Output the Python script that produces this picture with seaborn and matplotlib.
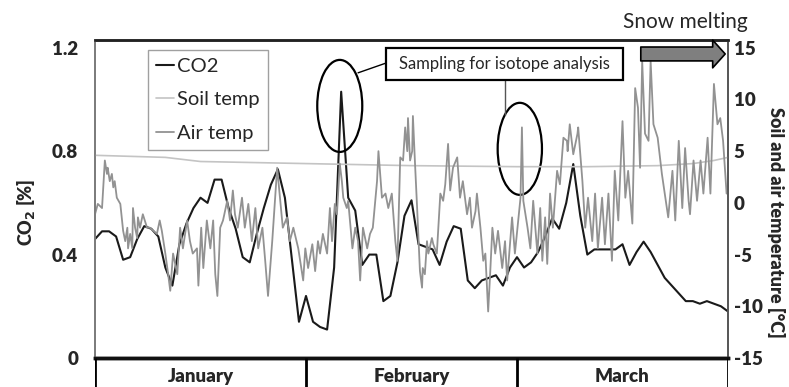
import numpy as np
import pandas as pd
import matplotlib
matplotlib.use("Agg")
import matplotlib.pyplot as plt
import seaborn as sns
from matplotlib.lines import Line2D
from matplotlib.patches import Ellipse, Rectangle

# daily CO2 [%] from 1 Jan (day 0) to 31 Mar (day 90)
co2 = [0.46, 0.49, 0.49, 0.47, 0.38, 0.39, 0.46, 0.51, 0.50, 0.47,
       0.35, 0.28, 0.44, 0.52, 0.58, 0.62, 0.60, 0.69, 0.69, 0.58,
       0.50, 0.39, 0.37, 0.48, 0.58, 0.67, 0.73, 0.62, 0.38, 0.14,
       0.24, 0.14, 0.12, 0.11, 0.35, 1.03, 0.62, 0.57, 0.36, 0.40,
       0.40, 0.22, 0.24, 0.37, 0.55, 0.61, 0.44, 0.43, 0.42, 0.36,
       0.45, 0.51, 0.50, 0.30, 0.27, 0.30, 0.31, 0.32, 0.28, 0.35,
       0.39, 0.35, 0.37, 0.41, 0.47, 0.54, 0.50, 0.60, 0.75, 0.55,
       0.40, 0.42, 0.42, 0.42, 0.42, 0.44, 0.36, 0.41, 0.45, 0.41,
       0.36, 0.31, 0.28, 0.25, 0.22, 0.22, 0.21, 0.22, 0.21, 0.20, 0.18]
co2_day = list(range(len(co2)))

# soil temperature [°C]
soil_day = [0, 10, 15, 30, 45, 60, 70, 80, 85, 88, 90]
soil_temp = [4.6, 4.4, 4.0, 3.8, 3.6, 3.5, 3.5, 3.6, 3.8, 4.1, 4.4]

# air temperature [°C]
air_day = [0.0, 0.4, 1.0, 1.4, 1.7, 1.8, 2.1, 2.4, 2.6, 2.8, 3.1, 3.6, 3.8, 4.0, 4.3, 4.6, 4.7, 5.0, 5.3, 5.4,
           5.7, 6.0, 6.1, 6.4, 6.8, 7.4, 7.8, 8.3, 8.8, 9.2, 9.5, 10.0, 10.4, 10.7, 11.1, 11.7, 12.1, 12.5, 13.1, 13.5,
           13.9, 14.5, 14.7, 15.1, 15.4, 15.9, 16.4, 16.8, 17.1, 17.4, 17.8, 18.2, 18.8, 19.2, 19.6, 19.9, 20.3, 20.9, 21.3, 21.8,
           22.3, 22.8, 23.2, 23.8, 24.2, 24.6, 25.2, 25.9, 26.3, 26.7, 27.3, 27.7, 28.2, 28.9, 29.6, 29.9, 30.3, 30.9, 31.3, 31.7,
           32.0, 32.4, 33.0, 33.4, 33.7, 34.1, 34.4, 34.8, 35.1, 35.3, 35.8, 36.0, 36.6, 37.0, 37.4, 37.7, 38.1, 38.7, 39.1, 39.5,
           40.1, 40.3, 40.8, 41.3, 41.7, 42.2, 42.7, 43.0, 43.4, 43.8, 44.1, 44.4, 44.5, 44.8, 45.1, 45.2, 45.5, 45.8, 46.2, 46.5,
           46.6, 46.9, 47.2, 47.4, 47.9, 48.1, 48.6, 49.1, 49.5, 49.8, 50.2, 50.5, 50.9, 51.5, 51.9, 52.3, 52.9, 53.3, 53.6, 54.1,
           54.3, 54.8, 55.2, 55.5, 55.9, 56.2, 56.5, 56.9, 57.3, 57.9, 58.3, 58.6, 59.3, 59.7, 60.5, 60.7, 60.9, 61.5, 61.9, 62.3,
           62.9, 63.3, 63.6, 64.0, 64.3, 64.7, 65.1, 65.7, 66.1, 66.6, 67.1, 67.2, 67.5, 68.0, 68.6, 68.7, 69.3, 69.7, 70.1, 70.7,
           71.1, 71.5, 72.1, 72.5, 73.0, 73.5, 73.9, 74.4, 75.0, 75.4, 75.8, 76.4, 76.8, 77.2, 77.5, 77.8, 78.2, 78.7, 79.0, 79.4,
           80.0, 80.6, 81.1, 81.5, 82.1, 82.5, 83.0, 83.5, 83.9, 84.4, 84.6, 85.1, 85.6, 86.1, 86.5, 87.1, 87.5, 88.0, 88.5, 88.9,
           89.3, 89.8]
air_temp = [-1.1, -0.1, -0.5, 4.1, 2.8, 3.4, 2.1, 2.8, 1.5, 2.1, 0.5, -0.1, -1.4, -2.7, -3.7, -2.4, -4.4, -3.0, -4.4, -0.5,
            -2.4, -3.4, -1.4, -2.4, -1.1, -2.4, -2.4, -2.7, -3.0, -1.7, -2.7, -4.9, -6.9, -8.5, -4.9, -6.9, -2.4, -4.4, -1.7, -3.7,
            -4.9, -4.4, -8.0, -2.4, -6.3, -1.7, -4.4, -1.7, -6.9, -9.0, -2.4, -1.7, 0.2, -1.7, 1.2, -1.1, -2.4, 0.5, -2.4, -0.1,
            -3.7, -0.5, -4.4, -2.4, -5.6, -9.0, -3.7, 3.4, 0.5, -2.4, -1.4, -3.7, -2.4, -4.4, -7.5, -4.4, -6.3, -4.0, -6.6, -3.7,
            -4.9, -3.0, -4.9, -0.5, -3.7, -0.1, -1.1, 3.8, 2.1, 0.5, -0.5, 0.2, -4.4, -2.4, -3.7, -7.5, -2.4, -4.4, -3.0, -2.4,
            2.1, 5.0, 0.5, 0.9, -0.5, 0.9, -3.7, -5.6, 4.4, 4.1, 7.3, 5.0, 8.2, 4.1, 5.0, 8.4, 3.8, -0.5, -6.6, -8.2,
            -6.3, -6.9, -3.7, -4.9, -3.4, -4.0, -4.9, 0.9, 0.2, 1.8, 5.7, 1.2, 3.4, 4.4, 0.5, 2.1, -1.1, 0.5, -2.4, -0.8,
            0.9, -2.4, -5.6, -4.9, -10.5, -6.6, -2.4, -4.9, -2.7, -6.3, -3.7, -7.5, -1.4, -4.9, 0.5, 7.3, 0.2, -2.4, -4.4, 0.2,
            -4.9, -0.5, -5.6, -1.4, -5.9, 0.9, -2.4, 3.1, 1.8, 6.3, 6.0, 5.0, 7.6, 4.7, 6.7, 7.3, 2.1, -2.4, 0.5, -3.7,
            0.9, -4.4, 0.5, -4.0, 0.9, -5.6, 3.1, -1.7, 7.9, 0.5, 3.1, -2.0, 11.1, 9.2, 3.4, 13.7, 6.7, 6.0, 13.7, 7.6,
            6.3, 2.8, 0.5, -1.4, 3.1, -1.7, 6.0, -0.5, 5.3, 0.2, -1.1, 4.1, 0.2, 4.1, 0.9, 6.3, 0.9, 11.5, 7.6, 8.2,
            6.0, 0.9]

months = ["January", "February", "March"]
month_edges = [0, 30, 60, 90]
co2_ticks = [0, 0.4, 0.8, 1.2]
co2_ticklabels = ["0", "0.4", "0.8", "1.2"]
temp_ticks = [-15, -10, -5, 0, 5, 10, 15]

sns.set_style("white")
plt.rcParams["font.family"] = ["Lato", "DejaVu Sans"]
plt.rcParams["axes.unicode_minus"] = False
plt.rcParams["mathtext.default"] = "bf"

fig = plt.figure(figsize=(7.89, 3.87), dpi=100)
ax = fig.add_axes([95 / 789, 1 - 358 / 387, 633 / 789, 318 / 387])
ax2 = ax.twinx()

sns.lineplot(x=co2_day, y=co2, ax=ax, color="#1a1a1a", lw=1.5, estimator=None, sort=False)
sns.lineplot(x=soil_day, y=soil_temp, ax=ax2, color="#c4c4c4", lw=1.2, estimator=None, sort=False)
sns.lineplot(x=air_day, y=air_temp, ax=ax2, color="#929292", lw=1.3, estimator=None, sort=False)

ax.set_xlim(0, 90)
ax.set_ylim(0, 1.23)
ax2.set_ylim(-15, 15.75)
ax.set_xticks([])
ax.set_yticks(co2_ticks)
ax.set_yticklabels(co2_ticklabels, fontsize=13.5, fontweight="heavy")
ax2.set_yticks(temp_ticks)
ax2.set_yticklabels([str(t) for t in temp_ticks], fontsize=13.5, fontweight="heavy")
ax.tick_params(axis="y", length=0, pad=12)
ax2.tick_params(axis="y", length=0, pad=4)
ax.set_ylabel("")
ax2.set_ylabel("")

for a in (ax, ax2):
    a.spines["top"].set_color("#222222")
    a.spines["top"].set_linewidth(1.8)
    a.spines["bottom"].set_color("#111111")
    a.spines["bottom"].set_linewidth(2.5)
    a.spines["left"].set_color("#7a7a7a")
    a.spines["left"].set_linewidth(1.2)
    a.spines["right"].set_color("#555555")
    a.spines["right"].set_linewidth(1.2)

fig.text(26 / 789, 1 - 212 / 387, "CO$_2$ [%]", rotation=90, ha="center", va="center",
         fontsize=13, fontweight="heavy")
fig.text(776 / 789, 1 - 222 / 387, "Soil and air temperature [°C]", rotation=-90,
         ha="center", va="center", fontsize=13, fontweight="heavy")

# legend
handles = [Line2D([], [], color="#1a1a1a", lw=1.5),
           Line2D([], [], color="#c4c4c4", lw=1.2),
           Line2D([], [], color="#929292", lw=1.3)]
leg = ax2.legend(handles, ["CO2", "Soil temp", "Air temp"], loc="upper left",
                 bbox_to_anchor=((148 - 95) / 633, (358 - 50) / 318), borderaxespad=0,
                 fontsize=14.5, frameon=True, fancybox=False, framealpha=1,
                 edgecolor="#a0a0a0", handlelength=0.9, handletextpad=0.15,
                 labelspacing=0.8, borderpad=0.4)
leg.get_frame().set_linewidth(1.0)

# sampling annotations
tr = ax.transData
ax2.add_patch(Ellipse((34.8, 0.975), 6.4, 0.356, fill=False, ec="black", lw=1.6,
                      transform=tr, clip_on=False))
ax2.add_patch(Ellipse((60.4, 0.809), 6.3, 0.356, fill=False, ec="black", lw=1.6,
                      transform=tr, clip_on=False))
ax2.add_patch(Rectangle((41.4, 1.075), 33.7, 0.124, fc="white", ec="black", lw=1.6,
                        transform=tr, clip_on=False, zorder=5))
ax2.text(58.25, 1.137, "Sampling for isotope analysis", transform=tr, ha="center",
         va="center", fontsize=12, zorder=6)
ax2.plot([37.4, 41.4], [1.103, 1.141], color="black", lw=1.0, transform=tr)
ax2.plot([58.3, 58.3], [1.075, 0.940], color="#555555", lw=1.0, transform=tr)

# snow melting arrow
ax2.annotate("", xy=(89.6, 1.176), xytext=(77.6, 1.176), xycoords=tr, textcoords=tr,
             arrowprops=dict(arrowstyle="simple,head_length=0.45,head_width=1.0,tail_width=0.5",
                             fc="#7f7f7f", ec="black", lw=1.2, shrinkA=0, shrinkB=0,
                             mutation_scale=20),
             annotation_clip=False, zorder=6)
fig.text(685 / 789, 1 - 22 / 387, "Snow melting", ha="center", va="center", fontsize=15)

# month category row
axm = fig.add_axes([95 / 789, 0, 633 / 789, 1 - 358 / 387])
axm.set_xlim(0, 90)
axm.set_ylim(0, 1)
axm.axis("off")
axm.vlines(month_edges, 0, 1, color="black", lw=2)
for i, m in enumerate(months):
    mid = (month_edges[i] + month_edges[i + 1]) / 2
    axm.text(mid, 0.36, m, ha="center", va="center", fontsize=13.5, fontweight="heavy")

fig.savefig("out.png", dpi=100)
